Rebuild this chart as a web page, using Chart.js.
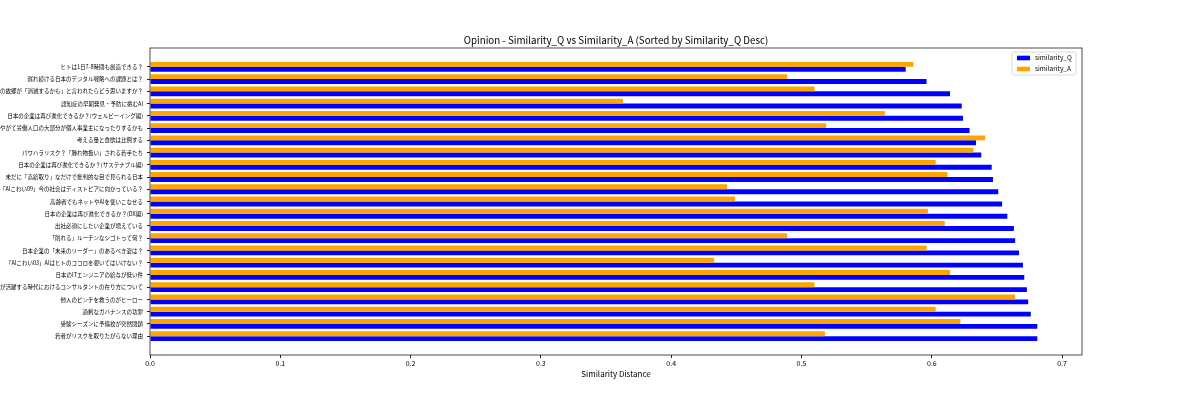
<!DOCTYPE html>
<html>
<head>
<meta charset="utf-8">
<script src="https://cdn.jsdelivr.net/npm/chart.js@4"></script>
<style>
    body { margin: 0; background: #fff; }
    #wrap { width: 1200px; height: 400px; }
</style>
</head>
<body>
<div id="wrap"><canvas id="chart"></canvas></div>
<script>
// Categories, index 0 = highest similarity_Q (drawn at the bottom)
const categories = [
    "若者がリスクを取りたがらない理由",
    "受験シーズンに予備校が突然閉鎖",
    "過剰なガバナンスの功罪",
    "他人のピンチを救うのがヒーロー",
    "AIが活躍する時代におけるコンサルタントの在り方について",
    "日本のITエンジニアの給与が低い件",
    "「AIこわい03」AIはヒトのココロを覗いてはいけない？",
    "日本企業の「未来のリーダー」のあるべき姿は？",
    "「削れる」ルーチンなシゴトって何？",
    "出社必須にしたい企業が増えている",
    "日本の企業は再び進化できるか？(DX編)",
    "高齢者でもネットやAIを使いこなせる",
    "「AIこわい09」今の社会はディストピアに向かっている？",
    "未だに「高給取り」なだけで批判的な目で見られる日本",
    "日本の企業は再び進化できるか？(サステナブル編)",
    "パワハラリスク？「腫れ物扱い」される若手たち",
    "考える量と食欲は比例する",
    "やがて労働人口の大部分が個人事業主になったりするかも",
    "日本の企業は再び進化できるか？(ウェルビーイング編)",
    "認知症の早期発見・予防に挑むAI",
    "あなたの故郷が「消滅するかも」と言われたらどう思いますか？",
    "遅れ続ける日本のデジタル戦略への課題とは？",
    "ヒトは1日7-8時間も創造できる？"
];

const similarityQ = [
    0.681, 0.681, 0.676, 0.674, 0.673, 0.671, 0.670, 0.667, 0.664, 0.663, 0.658, 0.654,
    0.651, 0.647, 0.646, 0.638, 0.634, 0.629, 0.624, 0.623, 0.614, 0.596, 0.580
];

const similarityA = [
    0.518, 0.622, 0.603, 0.664, 0.510, 0.614, 0.433, 0.596, 0.489, 0.610, 0.597, 0.449,
    0.443, 0.612, 0.603, 0.632, 0.641, 0.519, 0.564, 0.363, 0.510, 0.489, 0.586
];

const xTicks = [0.0, 0.1, 0.2, 0.3, 0.4, 0.5, 0.6, 0.7];

const FONT = "'Noto Sans CJK JP', 'Noto Sans', sans-serif";
Chart.defaults.color = "#000";
Chart.defaults.font.family = FONT;

// Box around the plot, like matplotlib spines
const frame = {
    id: "frame",
    afterDatasetsDraw(chart) {
        const { ctx, chartArea: a } = chart;
        ctx.save();
        ctx.strokeStyle = "#222";
        ctx.lineWidth = 0.8;
        ctx.strokeRect(a.left, a.top, a.right - a.left, a.bottom - a.top);
        ctx.restore();
    }
};

// Legend box in the upper right corner of the plot
const innerLegend = {
    id: "innerLegend",
    afterDraw(chart) {
        const { ctx, chartArea: a } = chart;
        const sets = chart.data.datasets;
        const w = 64, h = 23;
        const x = a.right - 6 - w, y = a.top + 4;
        ctx.save();
        ctx.fillStyle = "rgba(255,255,255,0.8)";
        ctx.strokeStyle = "#d0d0d0";
        ctx.lineWidth = 0.8;
        ctx.beginPath();
        ctx.roundRect(x, y, w, h, 2);
        ctx.fill();
        ctx.stroke();
        ctx.font = "6.5px " + FONT;
        ctx.textBaseline = "middle";
        sets.forEach((ds, i) => {
            const cy = y + 6 + i * 11;
            ctx.fillStyle = ds.backgroundColor;
            ctx.fillRect(x + 5, cy - 2.3, 13, 4.6);
            ctx.fillStyle = "#000";
            ctx.fillText(ds.label, x + 23, cy);
        });
        ctx.restore();
    }
};

new Chart(document.getElementById("chart"), {
    type: "bar",
    data: {
        labels: categories.map((_, i) => i),
        datasets: [
            { label: "similarity_Q", data: similarityQ, backgroundColor: "#0000ff", order: 1 },
            { label: "similarity_A", data: similarityA, backgroundColor: "#ffa500", order: 0 }
        ]
    },
    options: {
        indexAxis: "y",
        responsive: true,
        maintainAspectRatio: false,
        animation: false,
        datasets: { bar: { categoryPercentage: 0.8, barPercentage: 1.0, borderWidth: 0 } },
        layout: { padding: { top: 0, right: 118, bottom: 0, left: 0 } },
        plugins: {
            legend: { display: false },
            tooltip: { enabled: false },
            title: {
                display: true,
                fullSize: false,
                text: "Opinion - Similarity_Q vs Similarity_A (Sorted by Similarity_Q Desc)",
                font: { size: 9.75, weight: "normal", family: FONT },
                padding: { top: 34.8, bottom: 1.5 }
            }
        },
        scales: {
            x: {
                type: "linear",
                min: 0,
                max: 0.7153,
                afterBuildTicks: (scale) => { scale.ticks = xTicks.map(v => ({ value: v })); },
                afterFit: (scale) => { scale.height = 45; },
                ticks: { font: { size: 7 }, padding: 1.5, callback: (v) => v.toFixed(1) },
                grid: { drawOnChartArea: false, drawTicks: true, tickLength: 3, color: "#222" },
                border: { display: false },
                title: {
                    display: true,
                    text: "Similarity Distance",
                    font: { size: 8 },
                    padding: { top: 0, bottom: 21 }
                }
            },
            y: {
                type: "linear",
                offset: false,
                min: -1.54,
                max: 23.54,
                afterBuildTicks: (scale) => { scale.ticks = categories.map((_, i) => ({ value: i })); },
                afterFit: (scale) => { scale.width = 150; },
                ticks: {
                    autoSkip: false,
                    font: { size: 5.5 },
                    padding: 4,
                    callback: (v) => categories[v]
                },
                grid: { offset: false, drawOnChartArea: false, drawTicks: true, tickLength: 3, color: "#222" },
                border: { display: false }
            }
        }
    },
    plugins: [frame, innerLegend]
});
</script>
</body>
</html>
